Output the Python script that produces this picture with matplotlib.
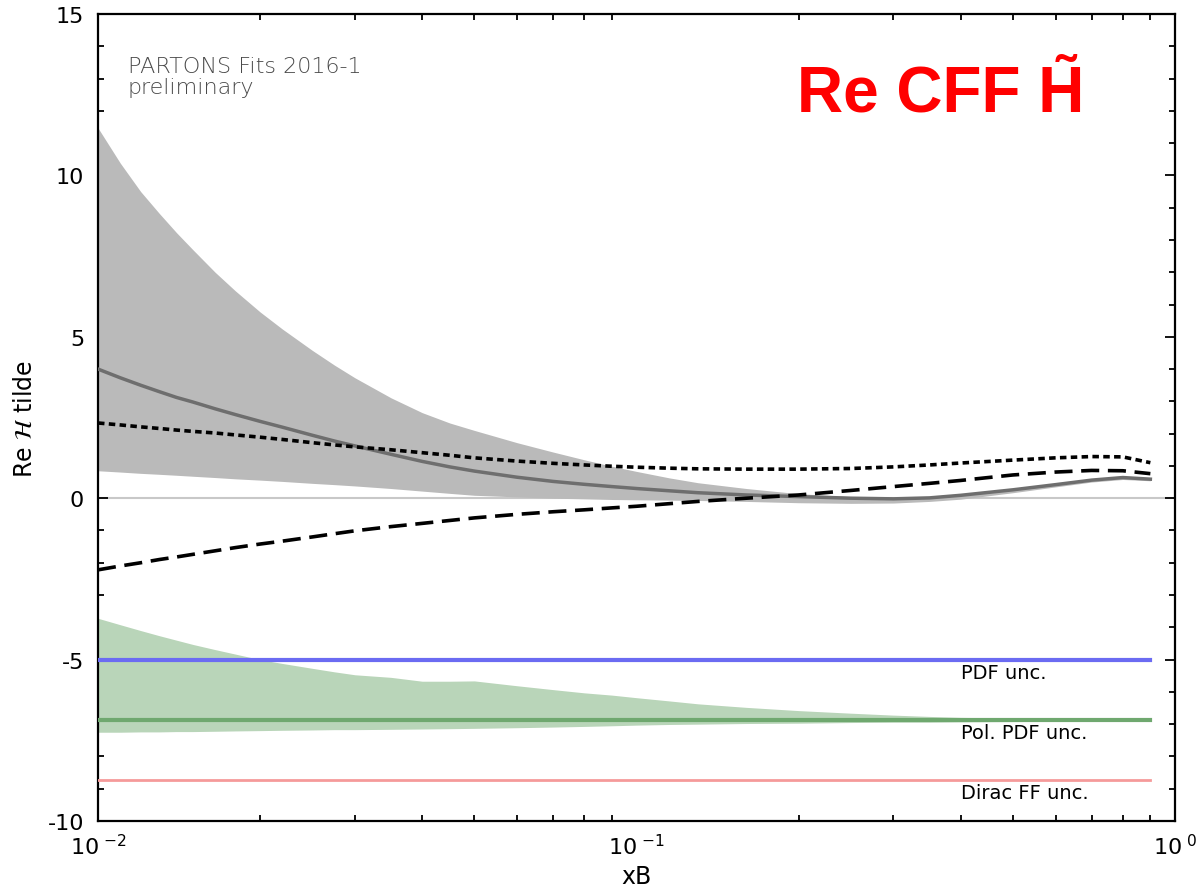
import matplotlib
matplotlib.use('Agg')
import matplotlib.pyplot as plt
from matplotlib.ticker import FixedLocator, LogLocator, FuncFormatter, MultipleLocator
import numpy as np

plt.rcParams['axes.unicode_minus'] = False

# ─── DATA ────────────────────────────────────────────────────────────────────
xb = [0.01, 0.011, 0.012, 0.013, 0.014, 0.015, 0.0165, 0.018, 0.02, 0.022,
      0.025, 0.0275, 0.03, 0.035, 0.04, 0.045, 0.05, 0.06, 0.07, 0.08,
      0.09, 0.1, 0.115, 0.13, 0.16, 0.2, 0.25, 0.3, 0.35, 0.4,
      0.5, 0.6, 0.7, 0.8, 0.9]

# fit: central value and uncertainty band
fit_mid = [4.0, 3.73, 3.5, 3.3, 3.12, 2.98, 2.77, 2.59, 2.38, 2.2,
           1.95, 1.77, 1.62, 1.36, 1.14, 0.97, 0.84, 0.65, 0.52, 0.43,
           0.36, 0.3, 0.23, 0.17, 0.1, 0.05, 0.0, -0.02, 0.01, 0.09,
           0.26, 0.42, 0.56, 0.64, 0.59]
fit_hi = [11.47, 10.38, 9.5, 8.82, 8.22, 7.7, 7.0, 6.42, 5.77, 5.24,
          4.58, 4.12, 3.73, 3.11, 2.65, 2.33, 2.1, 1.72, 1.43, 1.19,
          0.99, 0.83, 0.63, 0.48, 0.3, 0.14, 0.05, 0.02, 0.05, 0.12,
          0.3, 0.46, 0.6, 0.68, 0.63]
fit_lo = [0.85, 0.81, 0.77, 0.74, 0.71, 0.68, 0.64, 0.6, 0.56, 0.52,
          0.46, 0.42, 0.38, 0.3, 0.22, 0.15, 0.09, 0.04, 0.0, -0.02,
          -0.04, -0.05, -0.06, -0.07, -0.1, -0.14, -0.16, -0.15, -0.1, -0.03,
          0.17, 0.35, 0.5, 0.58, 0.54]

# model curves
model_dotted = [2.33, 2.27, 2.21, 2.16, 2.11, 2.07, 2.02, 1.96, 1.89, 1.82,
                1.72, 1.65, 1.59, 1.5, 1.41, 1.33, 1.25, 1.15, 1.08, 1.03,
                0.99, 0.96, 0.93, 0.91, 0.9, 0.9, 0.92, 0.97, 1.03, 1.09,
                1.18, 1.25, 1.29, 1.28, 1.1]
model_dashed = [-2.22, -2.1, -2.0, -1.9, -1.82, -1.74, -1.63, -1.53, -1.42, -1.33,
                -1.2, -1.1, -1.01, -0.88, -0.78, -0.69, -0.61, -0.5, -0.42, -0.36,
                -0.3, -0.25, -0.17, -0.1, 0.0, 0.1, 0.24, 0.36, 0.46, 0.55,
                0.72, 0.81, 0.86, 0.85, 0.76]

# uncertainty contributions, drawn at fixed offsets
pdf_level = -5.0
pol_level = -6.87
pol_hi = [-3.72, -3.92, -4.1, -4.26, -4.4, -4.53, -4.69, -4.83, -5.0, -5.12,
          -5.27, -5.38, -5.47, -5.55, -5.67, -5.67, -5.66, -5.81, -5.93, -6.03,
          -6.1, -6.18, -6.28, -6.37, -6.48, -6.58, -6.66, -6.72, -6.76, -6.79,
          -6.81, -6.82, -6.83, -6.84, -6.85]
pol_lo = [-7.25, -7.25, -7.24, -7.24, -7.23, -7.23, -7.22, -7.21, -7.2, -7.19,
          -7.18, -7.17, -7.17, -7.16, -7.15, -7.14, -7.13, -7.11, -7.09, -7.07,
          -7.05, -7.03, -7.01, -7.0, -6.98, -6.97, -6.95, -6.94, -6.94, -6.93,
          -6.92, -6.91, -6.91, -6.9, -6.9]
dirac_level = -8.74

band_labels = ['PDF unc.', 'Pol. PDF unc.', 'Dirac FF unc.']
label_y = [-5.39, -7.25, -9.13]

# ─── PLOT ────────────────────────────────────────────────────────────────────
fig = plt.figure(figsize=(11.98, 8.87), dpi=100)
ax = fig.add_axes([98 / 1198, 65 / 887, 1077 / 1198, 807 / 887])

x = np.array(xb)
ax.axhline(0, color='#c8c8c8', lw=1.5, zorder=1)

ax.fill_between(x, fit_lo, fit_hi, color='#bababa', lw=0, zorder=2)
ax.plot(x, fit_mid, color='#6e6e6e', lw=2.5, zorder=3)

ax.plot(x, model_dotted, color='black', lw=2.6, dashes=(1.8, 1.2), zorder=4)
ax.plot(x, model_dashed, color='black', lw=2.6, dashes=(5.0, 2.4), zorder=4)

ax.fill_between(x, pol_lo, pol_hi, color='#b9d5b9', lw=0, zorder=2)
ax.plot(x, [pol_level] * len(x), color='#6fa86f', lw=3, zorder=3)
ax.plot(x, [pdf_level] * len(x), color='#6b6bf2', lw=3, zorder=3)
ax.plot(x, [dirac_level] * len(x), color='#f59a9a', lw=2, zorder=3)

for txt, ty in zip(band_labels, label_y):
    ax.text(0.4, ty, txt, fontsize=14, ha='left', va='center', color='black')

ax.set_xscale('log')
ax.set_xlim(0.01, 1)
ax.set_ylim(-10, 15)

ax.xaxis.set_major_locator(FixedLocator([0.01, 0.1, 1]))
ax.xaxis.set_minor_locator(LogLocator(base=10, subs=np.arange(2, 10)))
ax.xaxis.set_major_formatter(FuncFormatter(
    lambda v, p: r'$\mathregular{10^{\ {%d}}}$' % int(round(np.log10(v)))))
ax.xaxis.set_minor_formatter(FuncFormatter(lambda v, p: ''))
ax.yaxis.set_major_locator(MultipleLocator(5))
ax.yaxis.set_minor_locator(MultipleLocator(1))

ax.tick_params(which='both', direction='in', top=True, right=True,
               labelsize=16, width=1.3, colors='black')
ax.tick_params(which='major', length=7, pad=10)
ax.tick_params(which='minor', length=4)
ax.tick_params(axis='x', which='major', length=0, pad=9)
for spine in ax.spines.values():
    spine.set_linewidth(1.6)

ax.set_xlabel('xB', fontsize=17, labelpad=4)
ax.set_ylabel(r'Re $\mathcal{H}$ tilde', fontsize=17, labelpad=8)

fig.text(128 / 1198, 1 - 94 / 887, 'PARTONS Fits 2016-1\npreliminary',
         fontsize=16, color='#4a4a4a', fontweight='light',
         ha='left', va='baseline', linespacing=1.05)
fig.text(797 / 1198, 1 - 112 / 887, 'Re CFF H\u0303', fontsize=46,
         color='#ff0000', fontweight='bold', family='Liberation Sans',
         ha='left', va='baseline')

fig.savefig('out.png', dpi=100, facecolor='white')
